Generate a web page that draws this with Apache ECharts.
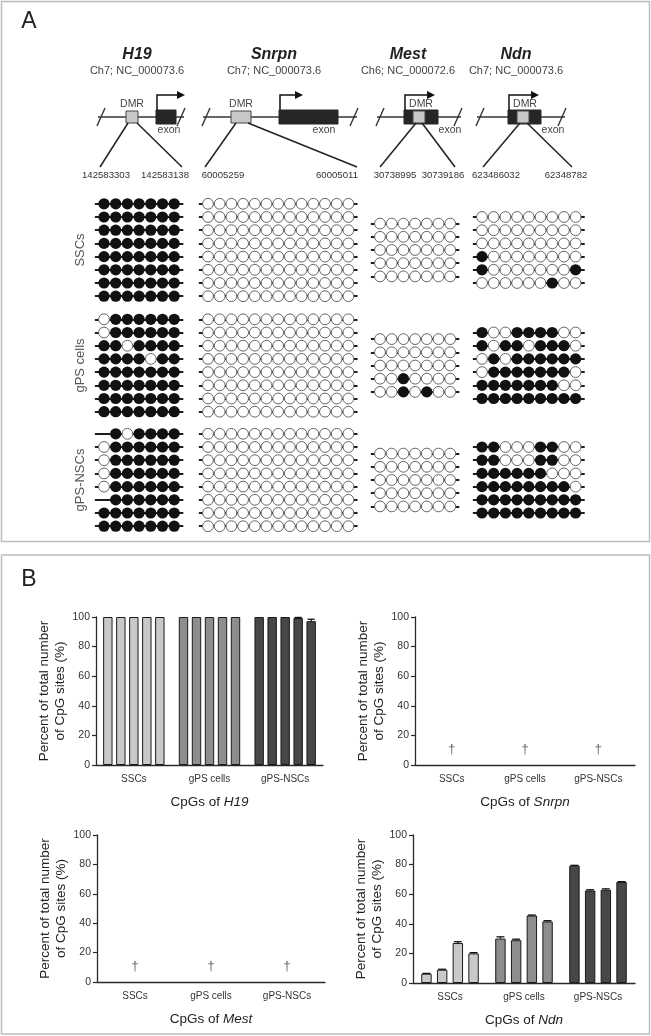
<!DOCTYPE html>
<html><head><meta charset="utf-8">
<script src="https://cdn.jsdelivr.net/npm/echarts@6/dist/echarts.min.js"></script>
<style>html,body{margin:0;padding:0;background:#fff}#c{width:651px;height:1036px}</style>
</head><body><div id="c"></div>
<script>
const FONT = "'Liberation Sans', Arial, Helvetica, sans-serif";

// ---------- Panel A data ----------
const genes = ['H19', 'Snrpn', 'Mest', 'Ndn'];
const geneLoci = ['Ch7; NC_000073.6', 'Ch7; NC_000073.6', 'Ch6; NC_000072.6', 'Ch7; NC_000073.6'];
const dmrStart = ['142583303', '60005259', '30738995', '623486032'];
const dmrEnd = ['142583138', '60005011', '30739186', '62348782'];
const cellTypes = ['SSCs', 'gPS cells', 'gPS-NSCs'];

// 1 = methylated CpG, 0 = unmethylated CpG, - = not determined
const h19SSCs = ['1111111','1111111','1111111','1111111','1111111','1111111','1111111','1111111'];
const h19GPS  = ['0111111','0111111','1101111','1111011','1111111','1111111','1111111','1111111'];
const h19NSCs = ['-101111','0111111','0111111','0111111','0111111','-111111','1111111','1111111'];
const snrpnSSCs = ['0000000000000','0000000000000','0000000000000','0000000000000','0000000000000','0000000000000','0000000000000','0000000000000'];
const snrpnGPS  = ['0000000000000','0000000000000','0000000000000','0000000000000','0000000000000','0000000000000','0000000000000','0000000000000'];
const snrpnNSCs = ['0000000000000','0000000000000','0000000000000','0000000000000','0000000000000','0000000000000','0000000000000','0000000000000'];
const mestSSCs = ['0000000','0000000','0000000','0000000','0000000'];
const mestGPS  = ['0000000','0000000','0000000','0010000','0010100'];
const mestNSCs = ['0000000','0000000','0000000','0000000','0000000'];
const ndnSSCs = ['000000000','000000000','000000000','100000000','100000001','000000100'];
const ndnGPS  = ['100111100','101101110','010111111','011111110','111111100','111111111'];
const ndnNSCs = ['110001100','110001100','111111000','111111110','111111111','111111111'];

// ---------- Panel B data ----------
const bCategories = ['SSCs', 'gPS cells', 'gPS-NSCs'];
const h19Pct = [[100,100,100,100,100],[100,100,100,100,100],[100,100,100,99.3,97.2]];
const h19Err = [[0,0,0,0,0],[0,0,0,0,0],[0,0,0,0.4,1.3]];
const ndnPct = [[6.3,9,27,20],[30,28.9,45.6,41.6],[79.3,62.5,63,68.3]];
const ndnErr = [[0.2,0.3,0.9,0.5],[1.2,0.7,0.3,0.5],[0.2,0.5,0.6,0.2]];
const snrpnDagger = ['SSCs', 'gPS cells', 'gPS-NSCs'];
const mestDagger = ['SSCs', 'gPS cells', 'gPS-NSCs'];

// ---------- layout ----------
const geneReads = [[h19SSCs,h19GPS,h19NSCs],[snrpnSSCs,snrpnGPS,snrpnNSCs],[mestSSCs,mestGPS,mestNSCs],[ndnSSCs,ndnGPS,ndnNSCs]];
const colFirstX = [104, 208, 380, 482];
const blockCenterY = [250, 365.5, 480];
const dotStep = 11.7, rowStep = 13.2;
const groupColors = ['#c9c9c9', '#8d8d8d', '#474747'];

const grids = [], xAxes = [], yAxes = [], series = [];
let gi = 0;
geneReads.forEach((cols, g) => {
  cols.forEach((reads, c) => {
    const n = reads[0].length, rows = reads.length;
    grids.push({ left: colFirstX[g] - dotStep, width: (n + 1) * dotStep,
      top: blockCenterY[c] - (rows + 1) * rowStep / 2, height: (rows + 1) * rowStep });
    xAxes.push({ type: 'value', gridIndex: gi, min: -1, max: n, show: false });
    yAxes.push({ type: 'value', gridIndex: gi, min: -1, max: rows, inverse: true, show: false });
    series.push({ type: 'lines', coordinateSystem: 'cartesian2d', xAxisIndex: gi, yAxisIndex: gi, z: 2,
      lineStyle: { color: '#1e1e1e', width: 2, opacity: 1 }, silent: true,
      data: reads.map((s, r) => ({ coords: [[-0.78, r], [n - 0.22, r]] })) });
    const meth = [], unmeth = [];
    reads.forEach((s, r) => s.split('').forEach((ch, i) => {
      if (ch === '1') meth.push([i, r]); else if (ch === '0') unmeth.push([i, r]);
    }));
    series.push({ type: 'scatter', xAxisIndex: gi, yAxisIndex: gi, z: 3, symbolSize: 11.2, data: meth,
      itemStyle: { color: '#111', opacity: 1 } });
    series.push({ type: 'scatter', xAxisIndex: gi, yAxisIndex: gi, z: 3, symbolSize: 10.8, data: unmeth,
      itemStyle: { color: '#fff', borderColor: '#666', borderWidth: 1, opacity: 1 } });
    gi++;
  });
});

// ---------- Panel B charts ----------
const bCharts = [
  { gene: 'H19', pct: h19Pct, err: h19Err, left: 96, top: 617, width: 227, height: 148, bw: 9.4, gap: 3.6 },
  { gene: 'Snrpn', dagger: snrpnDagger, left: 415, top: 617, width: 220, height: 148 },
  { gene: 'Mest', dagger: mestDagger, left: 97, top: 835, width: 228, height: 147 },
  { gene: 'Ndn', pct: ndnPct, err: ndnErr, left: 413, top: 835, width: 222, height: 148, bw: 10.4, gap: 5.3 }
];
bCharts.forEach(ch => {
  grids.push({ left: ch.left, top: ch.top, width: ch.width, height: ch.height });
  xAxes.push({ type: 'category', gridIndex: gi, data: bCategories,
    axisLine: { lineStyle: { color: '#2a2a2a', width: 1.3 } },
    axisTick: { alignWithLabel: true, length: 4, lineStyle: { color: '#2a2a2a', width: 1.2 } },
    axisLabel: { fontSize: 10, color: '#333', margin: 9, fontFamily: FONT },
    name: '{a|CpGs of }{b|' + ch.gene + '}', nameLocation: 'middle', nameGap: 30,
    nameTextStyle: { rich: { a: { fontSize: 13.5, color: '#222', fontFamily: FONT },
      b: { fontSize: 13.5, color: '#222', fontStyle: 'italic', fontFamily: FONT } } } });
  yAxes.push({ type: 'value', gridIndex: gi, min: 0, max: 100, interval: 20,
    axisLine: { show: true, lineStyle: { color: '#2a2a2a', width: 1.3 } },
    axisTick: { show: true, length: 4, lineStyle: { color: '#2a2a2a', width: 1.2 } },
    axisLabel: { fontSize: 10.5, color: '#333', margin: 6, fontFamily: FONT },
    splitLine: { show: false },
    name: 'Percent of total number\nof CpG sites (%)', nameLocation: 'middle', nameRotate: 90, nameGap: 27,
    nameTextStyle: { fontSize: 13.5, color: '#222', lineHeight: 16, fontFamily: FONT } });
  if (ch.pct) {
    const nb = ch.pct[0].length;
    for (let i = 0; i < nb; i++) {
      series.push({ type: 'bar', xAxisIndex: gi, yAxisIndex: gi, z: 3, barWidth: ch.bw,
        barGap: (ch.gap / ch.bw * 100).toFixed(1) + '%',
        itemStyle: { borderColor: '#1a1a1a', borderWidth: 1 },
        data: ch.pct.map((grp, c) => ({ value: grp[i], itemStyle: { color: groupColors[c] } })) });
    }
    const errData = [];
    ch.pct.forEach((grp, c) => grp.forEach((v, i) => { if (ch.err[c][i] > 0) errData.push([c, v + ch.err[c][i], v, i]); }));
    const bw = ch.bw, gap = ch.gap;
    series.push({ type: 'custom', xAxisIndex: gi, yAxisIndex: gi, z: 6, data: errData,
      renderItem: (params, api) => {
        const c = api.value(0), i = api.value(3);
        const top = api.coord([c, api.value(1)]);
        const base = api.coord([c, api.value(2)]);
        const total = nb * bw + (nb - 1) * gap;
        const x = top[0] - total / 2 + bw / 2 + i * (bw + gap);
        const cap = bw * 0.38;
        return { type: 'group', children: [
          { type: 'line', shape: { x1: x, y1: base[1], x2: x, y2: top[1] }, style: { stroke: '#111', lineWidth: 1.3 } },
          { type: 'line', shape: { x1: x - cap, y1: top[1], x2: x + cap, y2: top[1] }, style: { stroke: '#111', lineWidth: 1.3 } }
        ] };
      } });
  }
  if (ch.dagger) {
    series.push({ type: 'scatter', xAxisIndex: gi, yAxisIndex: gi, z: 4, symbolSize: 0.1,
      itemStyle: { color: 'transparent' },
      data: ch.dagger.map(cat => [bCategories.indexOf(cat), 0]),
      label: { show: true, formatter: '\u2020', position: 'top', distance: 9, fontSize: 13.5, color: '#444', fontFamily: FONT } });
  }
  gi++;
});

// ---------- graphic: frames, labels, gene maps ----------
const graphic = [];
const txt = (x, y, text, o) => graphic.push({ type: 'text', x, y, rotation: (o && o.rot) || 0, silent: true,
  style: Object.assign({ text, fill: '#333', fontSize: 11, fontFamily: FONT, align: 'center', verticalAlign: 'middle' }, o && o.style) });
const line = (x1, y1, x2, y2, w, col) => graphic.push({ type: 'line', silent: true,
  shape: { x1, y1, x2, y2 }, style: { stroke: col || '#222', lineWidth: w || 1.5 } });
const rect = (x, y, w, h, fill, stroke, lw) => graphic.push({ type: 'rect', silent: true,
  shape: { x, y, width: w, height: h }, style: { fill, stroke, lineWidth: lw || 1 } });

rect(1.5, 1.5, 648, 540, 'none', '#bdbdbd', 1.5);
rect(1.5, 555, 648, 479, 'none', '#bdbdbd', 1.5);
txt(29, 22, 'A', { style: { fontSize: 23, fill: '#222' } });
txt(29, 580, 'B', { style: { fontSize: 23, fill: '#222' } });

const titleX = [137, 274, 408, 516];
genes.forEach((g, k) => {
  txt(titleX[k], 55, g, { style: { fontSize: 16, fontWeight: 'bold', fontStyle: 'italic', fill: '#222' } });
  txt(titleX[k], 71, geneLoci[k], { style: { fontSize: 11, fill: '#444' } });
});
cellTypes.forEach((c, k) => txt(80, blockCenterY[k], c, { rot: Math.PI / 2, style: { fontSize: 13, fill: '#555' } }));

const y0 = 117;
const maps = [
  { base: [98, 184], sl: [101, 181], dmr: [126, 138], exon: [156, 176], arrowX: 157, arrowEnd: 177, dmrLab: 132, exonLab: 169, legs: [[128, 100], [137, 182]], labX: [106, 165] },
  { base: [203, 357], sl: [206, 354], dmr: [231, 251], exon: [279, 338], arrowX: 280, arrowEnd: 295, dmrLab: 241, exonLab: 324, legs: [[236, 205], [248, 357]], labX: [223, 337] },
  { base: [377, 461], sl: [380, 458], dmr: [413, 425], exon: [404, 438], arrowX: 405, arrowEnd: 427, dmrLab: 421, exonLab: 450, legs: [[416, 380], [422, 455]], labX: [395, 443] },
  { base: [477, 565], sl: [480, 562], dmr: [517, 529], exon: [508, 541], arrowX: 509, arrowEnd: 531, dmrLab: 525, exonLab: 553, legs: [[520, 483], [527, 572]], labX: [496, 566] }
];
maps.forEach((m, k) => {
  line(m.base[0], y0, m.base[1], y0, 1.4, '#333');
  m.sl.forEach(x => line(x - 4, y0 + 9, x + 4, y0 - 9, 1.4, '#333'));
  rect(m.exon[0], y0 - 7, m.exon[1] - m.exon[0], 14, '#262626', '#262626', 1);
  rect(m.dmr[0], y0 - 6, m.dmr[1] - m.dmr[0], 12, '#c8c8c8', '#444', 1);
  graphic.push({ type: 'polyline', silent: true, shape: { points: [[m.arrowX, y0 - 7], [m.arrowX, y0 - 22], [m.arrowEnd, y0 - 22]] },
    style: { stroke: '#111', lineWidth: 1.5, fill: 'none' } });
  graphic.push({ type: 'polygon', silent: true, shape: { points: [[m.arrowEnd, y0 - 26], [m.arrowEnd + 8, y0 - 22], [m.arrowEnd, y0 - 18]] },
    style: { fill: '#111' } });
  txt(m.dmrLab, y0 - 13, 'DMR', { style: { fontSize: 10.5, fill: '#444' } });
  txt(m.exonLab, y0 + 13, 'exon', { style: { fontSize: 10.5, fill: '#444' } });
  line(m.legs[0][0], y0 + 6, m.legs[0][1], 167, 1.5, '#222');
  line(m.legs[1][0], y0 + 6, m.legs[1][1], 167, 1.5, '#222');
  txt(m.labX[0], 175, dmrStart[k], { style: { fontSize: 9.6, fill: '#333' } });
  txt(m.labX[1], 175, dmrEnd[k], { style: { fontSize: 9.6, fill: '#333' } });
});

const chart = echarts.init(document.getElementById('c'), null, { renderer: 'canvas' });
chart.setOption({
  animation: false,
  backgroundColor: '#fff',
  textStyle: { fontFamily: FONT },
  grid: grids, xAxis: xAxes, yAxis: yAxes, series, graphic
});
</script></body></html>
